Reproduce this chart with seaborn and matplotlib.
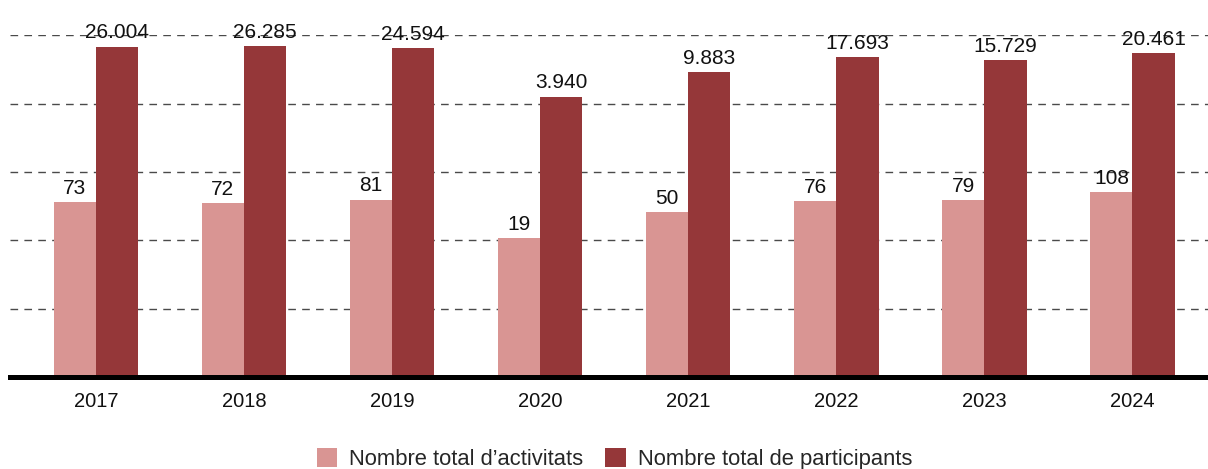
import numpy as np
import pandas as pd
import matplotlib
matplotlib.use("Agg")
import matplotlib.pyplot as plt
import seaborn as sns

# data
years = ["2017", "2018", "2019", "2020", "2021", "2022", "2023", "2024"]
activitats = [73, 72, 81, 19, 50, 76, 79, 108]
participants = [26004, 26285, 24594, 3940, 9883, 17693, 15729, 20461]
series_names = ["Nombre total d\u2019activitats", "Nombre total de participants"]
colors = ["#D99593", "#953739"]

df = pd.DataFrame({
    "year": years * 2,
    "value": activitats + participants,
    "serie": [series_names[0]] * len(years) + [series_names[1]] * len(years),
})

sns.set_style("white")
plt.rcParams["font.family"] = ["Liberation Sans", "DejaVu Sans"]

fig = plt.figure(figsize=(12.08, 4.69), dpi=100)
ax = fig.add_axes([0.0083, 0.196, 0.9917, 0.729])

sns.barplot(data=df, x="year", y="value", hue="serie", palette=colors,
            width=0.57, gap=0, saturation=1, ax=ax, errorbar=None,
            linewidth=0)
ax.set_yscale("log")
ylo, yhi = 0.1, 40000
ax.set_ylim(ylo, yhi)
ax.set_xlim(-0.58, 7.51)

# evenly spaced dashed guide lines
ax.set_yticks(np.geomspace(ylo, yhi, 6)[1:])
ax.yaxis.set_minor_locator(matplotlib.ticker.NullLocator())
ax.set_yticklabels([])
ax.yaxis.grid(True, linestyle=(0, (5.5, 4.5)), color="#4a4a4a", linewidth=1.0)
ax.set_axisbelow(True)

for c, vals in zip(ax.containers, [activitats, participants]):
    ax.bar_label(c, labels=[f"{v:,}".replace(",", ".") for v in vals],
                 padding=3, fontsize=15, color="#111111")

for s in ["top", "left", "right"]:
    ax.spines[s].set_visible(False)
ax.spines["bottom"].set_linewidth(3.6)
ax.spines["bottom"].set_color("black")
ax.tick_params(axis="x", length=0, pad=11, labelsize=14.5, labelcolor="#111111")
ax.tick_params(axis="y", length=0)
ax.set_xlabel("")
ax.set_ylabel("")

sns.move_legend(ax, "center", bbox_to_anchor=(0.5047, -0.241), ncol=2,
                frameon=False, title=None, fontsize=15.8,
                handlelength=0.95, handleheight=0.95, columnspacing=1.0,
                handletextpad=0.55)

fig.savefig("out.png", dpi=100)
